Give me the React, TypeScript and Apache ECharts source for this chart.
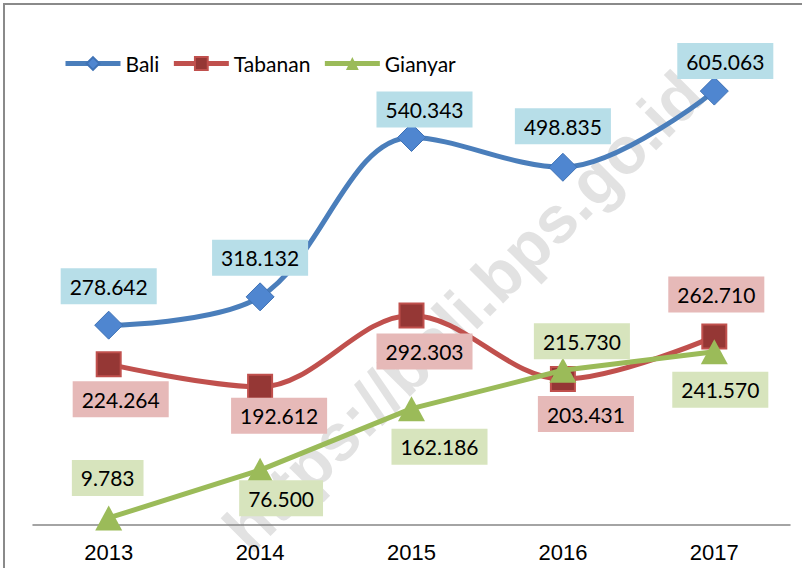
import React, { useEffect, useRef } from "react";
import * as echarts from "echarts";

const years = ["2013", "2014", "2015", "2016", "2017"];
const bali = [278.642, 318.132, 540.343, 498.835, 605.063];
const tabanan = [224.264, 192.612, 292.303, 203.431, 262.71];
const gianyar = [9.783, 76.5, 162.186, 215.73, 241.57];

const baliOffsets = [[0, -39], [0, -39], [13, -28], [0, -41], [11, -30]];
const tabananOffsets = [[12, 35], [19, 29], [13, 36], [23, 35], [2, -42]];
const gianyarOffsets = [[-1, -40], [21, 28], [28, 38], [19, -29], [6, 38]];

const labelFont = "Lato, 'Open Sans', sans-serif";

function mkData(vals: number[], offs: number[][], bg: string) {
  return vals.map((v, i) => ({
    value: v,
    label: {
      show: true,
      position: "inside",
      offset: offs[i],
      backgroundColor: bg,
      padding: [8, 9, 7, 9],
      color: "#000",
      fontFamily: labelFont,
      fontSize: 21,
      textBorderWidth: 0,
      formatter: (p: any) => Number(p.value).toFixed(3),
    },
  }));
}

export default function App() {
  const ref = useRef<HTMLDivElement>(null);
  useEffect(() => {
    if (!ref.current) return;
    const chart = echarts.init(ref.current, null, { renderer: "svg" });
    chart.setOption({
      animation: false,
      backgroundColor: "#fff",
      grid: { left: 33, right: 12, top: 23, bottom: 43 },
      legend: {
        left: 58,
        top: 48,
        itemWidth: 55,
        itemHeight: 16,
        itemGap: 12,
        lineStyle: { width: 5 },
        textStyle: { fontFamily: labelFont, fontSize: 21, color: "#000" },
        data: ["Bali", "Tabanan", "Gianyar"],
      },
      xAxis: {
        type: "category",
        data: years,
        boundaryGap: true,
        axisLine: { lineStyle: { color: "#868686", width: 1.5 } },
        axisTick: { show: false },
        axisLabel: {
          margin: 16,
          color: "#000",
          fontFamily: "'Liberation Sans Narrow', 'Liberation Sans', Arial, sans-serif",
          fontSize: 22,
        },
      },
      yAxis: {
        type: "value",
        min: 0,
        max: 700,
        show: false,
        splitLine: { show: false },
      },
      graphic: [
        {
          type: "rect",
          shape: { x: 4, y: 4, width: 900, height: 700 },
          style: { fill: "none", stroke: "#8a8a8a", lineWidth: 2 },
          silent: true,
          z: -10,
        },
        {
          type: "text",
          x: 463,
          y: 311,
          rotation: Math.PI / 4,
          silent: true,
          z: -5,
          style: {
            text: "https://bali.bps.go.id",
            fill: "rgba(150,150,150,0.28)",
            font: "bold 66px 'Liberation Sans', Arial, sans-serif",
            align: "center",
            verticalAlign: "middle",
          },
        },
      ],
      series: [
        {
          name: "Bali",
          type: "line",
          smooth: 0.35,
          data: mkData(bali, baliOffsets, "#B7DEE8"),
          symbol: "diamond",
          symbolSize: 28,
          lineStyle: { color: "#4A7EBB", width: 5 },
          itemStyle: { color: "#4F86D0", borderColor: "#3F72B5", borderWidth: 1 },
          emphasis: { disabled: true },
          z: 3,
        },
        {
          name: "Tabanan",
          type: "line",
          smooth: 0.35,
          data: mkData(tabanan, tabananOffsets, "#E6B9B8"),
          symbol: "rect",
          symbolSize: 24,
          lineStyle: { color: "#C0504D", width: 5 },
          itemStyle: { color: "#953735", borderColor: "#C0504D", borderWidth: 2 },
          emphasis: { disabled: true },
          z: 3,
        },
        {
          name: "Gianyar",
          type: "line",
          smooth: false,
          data: mkData(gianyar, gianyarOffsets, "#D7E4BD"),
          symbol: "triangle",
          symbolSize: [27, 25],
          lineStyle: { color: "#9BBB59", width: 5 },
          itemStyle: { color: "#9BBB59", borderColor: "#9BBB59", borderWidth: 0 },
          emphasis: { disabled: true },
          z: 4,
        },
      ],
    });
    return () => chart.dispose();
  }, []);
  return (
    <div
      ref={ref}
      style={{ position: "fixed", left: 0, top: 0, width: 802, height: 568 }}
    />
  );
}
